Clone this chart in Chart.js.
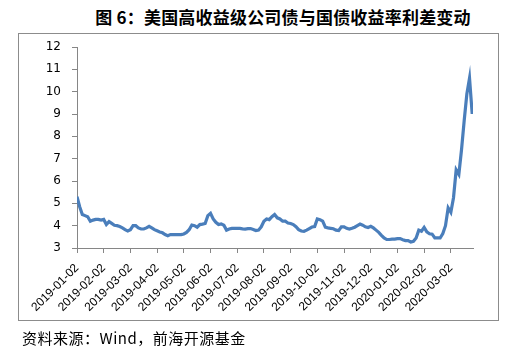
<!DOCTYPE html>
<html>
<head>
<meta charset="utf-8">
<script src="https://cdn.jsdelivr.net/npm/chart.js@4"></script>
<style>
  html, body { margin: 0; padding: 0; background: #fff; }
  #wrap { position: relative; width: 522px; height: 353px; overflow: hidden; }
  #title { position: absolute; left: 0; width: 566px; top: 6px; text-align: center;
           font: bold 17px "Noto Sans CJK SC", sans-serif; color: #000; line-height: 22px; letter-spacing: 0.2px; }
  #frame { position: absolute; left: 18px; top: 33px; width: 479px; height: 286px; border: 1px solid #8c8c8c; }
  #source { position: absolute; left: 22px; top: 328px; font: 15px "Noto Sans CJK SC", sans-serif; color: #000;
            line-height: 20px; letter-spacing: 0.5px; }
  canvas { position: absolute; left: 0; top: 0; }
</style>
</head>
<body>
<div id="wrap">
  <div id="title">图 6：美国高收益级公司债与国债收益率利差变动</div>
  <div id="frame"></div>
  <canvas id="spread" width="522" height="353"></canvas>
  <div id="source">资料来源：Wind，前海开源基金</div>
</div>
<script>
// ============================================================
//  DONNÉES — 10 points par mois, un tick par mois
// ============================================================
const monthLabels = [
  '2019-01-02', '2019-02-02', '2019-03-02', '2019-04-02', '2019-05-02',
  '2019-06-02', '2019-07-02', '2019-08-02', '2019-09-02', '2019-10-02',
  '2019-11-02', '2019-12-02', '2020-01-02', '2020-02-02', '2020-03-02'
];
const pointsPerMonth = 10;

const spread = [
  // 2019-01
  5.30, 4.85, 4.50, 4.45, 4.40, 4.20, 4.25, 4.28, 4.28, 4.25,
  // 2019-02
  4.28, 4.05, 4.18, 4.10, 4.02, 4.00, 3.96, 3.90, 3.82, 3.76,
  // 2019-03
  3.82, 4.00, 4.00, 3.90, 3.85, 3.85, 3.90, 3.97, 3.90, 3.82,
  // 2019-04
  3.77, 3.72, 3.68, 3.60, 3.55, 3.60, 3.60, 3.60, 3.60, 3.60,
  // 2019-05
  3.63, 3.70, 3.82, 4.03, 4.00, 3.93, 4.05, 4.07, 4.10, 4.45,
  // 2019-06
  4.55, 4.30, 4.15, 4.05, 4.08, 4.02, 3.80, 3.85, 3.88, 3.88,
  // 2019-07
  3.88, 3.88, 3.86, 3.85, 3.87, 3.87, 3.83, 3.78, 3.80, 3.95,
  // 2019-08
  4.20, 4.30, 4.27, 4.40, 4.50, 4.35, 4.30, 4.20, 4.20, 4.12,
  // 2019-09
  4.10, 4.05, 3.95, 3.82, 3.76, 3.75, 3.80, 3.87, 3.94, 3.96,
  // 2019-10
  4.30, 4.27, 4.20, 3.93, 3.90, 3.88, 3.86, 3.80, 3.78, 3.95,
  // 2019-11
  3.95, 3.88, 3.85, 3.88, 3.93, 4.00, 4.07, 4.02, 3.95, 3.92,
  // 2019-12
  3.97, 3.90, 3.80, 3.70, 3.57, 3.45, 3.38, 3.38, 3.40, 3.40,
  // 2020-01
  3.42, 3.42, 3.37, 3.33, 3.33, 3.27, 3.30, 3.45, 3.80, 3.75,
  // 2020-02
  3.92, 3.72, 3.64, 3.62, 3.45, 3.45, 3.45, 3.65, 4.00, 4.80,
  // 2020-03
  4.60, 5.25, 6.50, 6.30, 7.40, 8.70, 9.90, 10.60, 9.00
];

const yMin = 3, yMax = 12;

// ============================================================
//  GRAPHIQUE
// ============================================================
const points = spread.map((v, i) => ({ x: i / pointsPerMonth, y: v }));
const axisColor = '#868686';

new Chart(document.getElementById('spread').getContext('2d'), {
  type: 'line',
  data: {
    datasets: [{
      data: points,
      borderColor: '#4a7ebb',
      borderWidth: 3.2,
      pointRadius: 0,
      tension: 0,
      fill: false
    }]
  },
  options: {
    responsive: false,
    animation: false,
    layout: { padding: { left: 0, right: 49, top: 47, bottom: 0 } },
    plugins: { legend: { display: false }, tooltip: { enabled: false } },
    scales: {
      x: {
        type: 'linear',
        min: 0,
        max: 14.83,
        afterBuildTicks: (axis) => {
          axis.ticks = monthLabels.map((_, i) => ({ value: i }));
        },
        afterFit: (axis) => { axis.height = 105; },
        grid: { drawOnChartArea: false, color: axisColor, tickLength: 5 },
        border: { color: axisColor },
        ticks: {
          autoSkip: false,
          minRotation: 45,
          maxRotation: 45,
          padding: 8,
          color: '#000',
          font: { family: 'Liberation Sans', size: 12 },
          callback: (v) => monthLabels[Math.round(v)]
        }
      },
      y: {
        min: yMin,
        max: yMax,
        afterFit: (axis) => { axis.width = 77; },
        grid: { drawOnChartArea: false, color: axisColor, tickLength: 5 },
        border: { color: axisColor },
        ticks: {
          stepSize: 1,
          padding: 11,
          color: '#000',
          font: { family: 'DejaVu Sans', size: 12 }
        }
      }
    }
  }
});
</script>
</body>
</html>
